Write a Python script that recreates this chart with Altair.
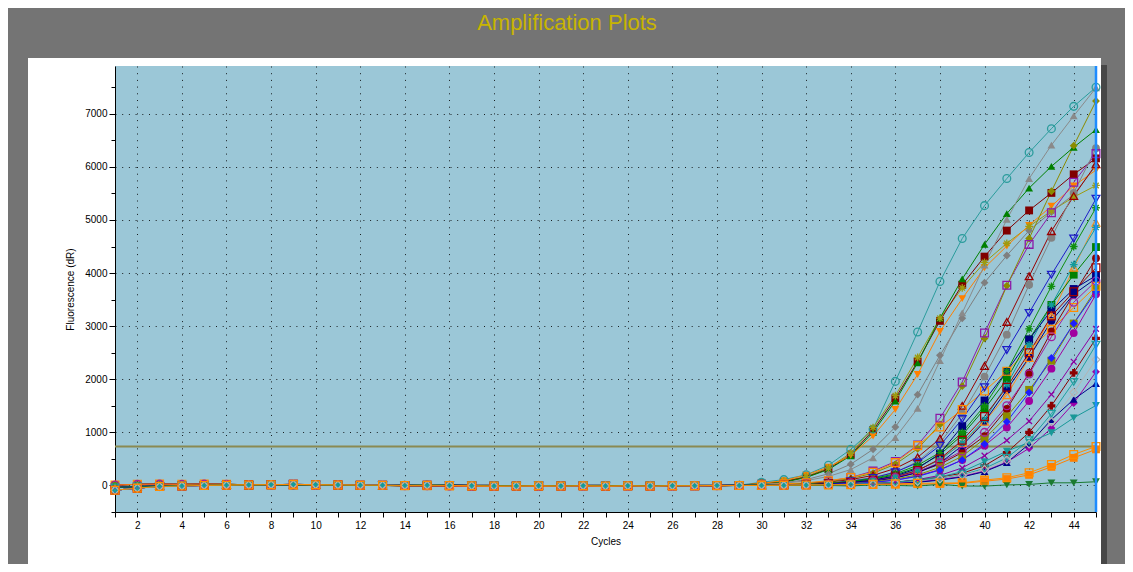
import altair as alt
import pandas as pd

# ---------------- data ----------------
cycles = list(range(1, 46))
chart_title = ["Amplification Plots"]

base_a = [-40, -20, -10, 0, 5, 10, 5, 10, 5, 10, 5, 0, 0, 5, 10, 5, 0, 0, -5, 0, -5, 0, 0, -5, 0, -5, 0, 0, 5]
base_b = [-90, -50, -20, -10, 0, 5, 10, 15, 20, 15, 10, 5, 5, 0, 5, 0, -5, -10, -10, -5, -10, -5, -10, -5, -10, -5, -5, 0, 0]
base_c = [10, 20, 25, 20, 25, 20, 15, 10, 10, 5, 10, 5, 0, -5, -5, -10, -15, -15, -10, -15, -10, -10, -15, -10, -10, -10, -5, -5, 0]

# cycles 30-45 for each well
s01 = [60, 110, 200, 380, 680, 1060, 1960, 2890, 3840, 4650, 5270, 5780, 6270, 6720, 7140, 7500]
s02 = [40, 80, 170, 330, 610, 1090, 1690, 2410, 3150, 3720, 4200, 4560, 4880, 5170, 5430, 5650]
s03 = [40, 70, 160, 310, 580, 1040, 1640, 2330, 3100, 3780, 4310, 4800, 5180, 5510, 5860, 6160]
s04 = [30, 60, 150, 300, 560, 1000, 1590, 2310, 3150, 3890, 4540, 5120, 5600, 6010, 6370, 6700]
s05 = [40, 90, 200, 345, 565, 930, 1430, 2090, 2900, 3520, 4100, 4510, 4900, 5260, 5640, 5940]
s06 = [20, 50, 110, 220, 400, 680, 1100, 1710, 2450, 3150, 3820, 4330, 4800, 5150, 5480, 6020]
s07 = [20, 40, 90, 170, 300, 520, 900, 1450, 2350, 3250, 4150, 5010, 5780, 6410, 6960, 7490]
s08 = [10, 20, 40, 80, 150, 270, 450, 760, 1265, 1950, 2870, 3770, 4540, 5135, 5710, 6250]
s09 = [10, 20, 40, 70, 130, 230, 400, 690, 1150, 1870, 2770, 3760, 4650, 5540, 6400, 7240]
s10 = [5, 15, 30, 60, 110, 190, 320, 530, 880, 1500, 2250, 3080, 3940, 4790, 5450, 6050]
s11 = [5, 10, 25, 50, 90, 150, 250, 450, 800, 1350, 2050, 2840, 3780, 4665, 5510, 6350]
s12 = [10, 30, 50, 90, 150, 250, 430, 750, 1100, 1430, 1780, 2150, 2560, 2940, 3350, 3750]
s13 = [0, 0, 5, 10, 20, 35, 60, 110, 190, 330, 560, 850, 1211, 1714, 2330, 2950]
s14 = [5, 10, 20, 40, 80, 140, 250, 430, 750, 1250, 1850, 2550, 3250, 3970, 4650, 5400]
s15 = [10, 15, 25, 45, 75, 130, 220, 380, 620, 1000, 1500, 2150, 2950, 3750, 4500, 5230]
s16 = [5, 10, 20, 35, 60, 100, 170, 290, 480, 800, 1200, 1700, 2400, 3200, 4100, 4950]
s17 = [5, 10, 20, 35, 60, 100, 170, 290, 480, 800, 1240, 1900, 2650, 3400, 4160, 4860]
s18 = [5, 10, 20, 40, 70, 120, 200, 340, 580, 950, 1440, 2000, 2750, 3400, 3970, 4490]
s19 = [0, 5, 15, 30, 50, 90, 150, 250, 400, 620, 930, 1440, 2120, 2900, 3600, 4280]
s20 = [0, 5, 15, 30, 55, 95, 160, 280, 500, 850, 1300, 1850, 2500, 3190, 3650, 4100]
s21 = [0, 5, 10, 25, 50, 90, 150, 260, 430, 650, 1000, 1500, 2100, 2800, 3450, 3850]
s22 = [0, 5, 10, 25, 45, 80, 140, 240, 420, 750, 1200, 1800, 2410, 3100, 3600, 3900]
s23 = [0, 0, 5, 15, 30, 60, 100, 180, 300, 480, 750, 1090, 1590, 2200, 2870, 3600]
s24 = [0, 5, 10, 20, 40, 70, 120, 200, 340, 550, 880, 1300, 1800, 2350, 3050, 3700]
s25 = [0, 5, 15, 30, 55, 100, 180, 320, 600, 1117, 1600, 2150, 2750, 3300, 3700, 3950]
s26 = [0, 5, 10, 20, 35, 60, 100, 170, 290, 480, 780, 1200, 1750, 2400, 3050, 3650]
s27 = [0, 0, 5, 10, 20, 35, 60, 100, 160, 230, 370, 620, 1000, 1500, 2120, 2770]
s28 = [0, 0, 5, 10, 20, 30, 50, 80, 130, 200, 320, 520, 850, 1350, 1950, 2650]
s29 = [0, 0, 5, 10, 15, 25, 45, 75, 120, 190, 300, 480, 780, 1200, 1750, 2370]
s30 = [0, 0, 0, 5, 15, 25, 40, 65, 110, 170, 270, 440, 700, 1080, 1550, 2140]
s31 = [0, 0, 0, 5, 10, 20, 35, 60, 100, 160, 260, 430, 780, 1240, 1620, 1920]
s32 = [0, 0, 5, 10, 20, 35, 60, 100, 160, 260, 450, 646, 810, 992, 1274, 1506]
s33 = [0, 5, 0, 5, 10, 15, 20, 25, 30, 40, 80, 120, 200, 350, 520, 680]
s34 = [10, 0, 5, 0, -10, 10, 0, -10, 20, -10, -12, 10, 19, 50, 50, 70]
s35 = [0, 5, 10, 10, 15, 20, 30, 40, 45, 50, 100, 145, 239, 395, 584, 734]

rises = [s01, s02, s03, s04, s05, s06, s07, s08, s09, s10, s11, s12, s13, s14, s15, s16, s17, s18,
         s19, s20, s21, s22, s23, s24, s25, s26, s27, s28, s29, s30, s31, s32, s33, s34, s35]
bases = [base_a, base_b, base_c]

series_names = ["W%02d" % (i + 1) for i in range(len(rises))]

ASTER = "M-1,0L1,0M0,-1L0,1M-0.7,-0.7L0.7,0.7M-0.7,0.7L0.7,-0.7"
XMARK = "M-0.75,-0.75L0.75,0.75M-0.75,0.75L0.75,-0.75"

series_colors = ["#2b9c9c", "#9c9c10", "#800000", "#008000", "#ff8000", "#7f7f7f", "#8a8a8a",
                 "#8c1aa8", "#8b8b00", "#990000", "#838383", "#ff8c00", "#8c00a0", "#1c1cc8",
                 "#0f8f0f", "#ff8c1a", "#129a9a", "#008000", "#8b0000", "#a00000", "#a01ea0",
                 "#000080", "#a000a0", "#8b8b00", "#000080", "#1e1eff", "#8b0000", "#1fa0a0",
                 "#b4b4b4", "#9a00a8", "#00008c", "#189898", "#ff8000", "#1a7a30", "#ff8c00"]
series_shapes = ["circle", ASTER, "square", "triangle-up", "triangle-down", "diamond", "triangle-up",
                 "square", "diamond", "triangle-up", "circle", "square", XMARK, "triangle-down",
                 ASTER, "triangle-up", ASTER, "square", "circle", "square", "circle",
                 "circle", "circle", "square", "square", "diamond", "cross", "triangle-down",
                 "diamond", "diamond", "triangle-up", "triangle-down", "square", "triangle-down", "square"]
series_filled = [False, False, True, True, True, True, True,
                 False, True, False, True, False, False, False,
                 False, False, False, True, True, False, False,
                 True, True, True, True, True, True, False,
                 False, True, True, True, True, True, False]

threshold = [734]
marker_cycle = [45]

rows = []
for i, name in enumerate(series_names):
    vals = bases[i % 3] + rises[i]
    for c, v in zip(cycles, vals):
        rows.append({"series": name, "cycle": c, "value": v, "filled": series_filled[i]})
df = pd.DataFrame(rows)

# ---------------- encodings ----------------
FONT = "Liberation Sans"
y_ticks = list(range(-500, 8000, 500))

X_ENC = alt.X(
    "cycle:Q",
    scale=alt.Scale(domain=[1, 45], nice=False, zero=False),
    axis=alt.Axis(
        values=cycles,
        labelExpr="datum.value % 2 == 0 && datum.value < 45 ? datum.label : ''",
        gridOpacity={"condition": {"test": "datum.value % 2 == 0 && datum.value < 45", "value": 0.85}, "value": 0},
        tickSize=5,
        labelPadding=3,
        title="Cycles",
        titlePadding=6,
    ),
)
Y_ENC = alt.Y(
    "value:Q",
    scale=alt.Scale(domain=[-500, 7900], nice=False, zero=False),
    axis=alt.Axis(
        values=y_ticks,
        format="d",
        labelExpr="datum.value % 1000 == 0 && datum.value >= 0 ? datum.label : ''",
        gridOpacity={"condition": {"test": "datum.value % 1000 == 0 && datum.value >= 0", "value": 0.85}, "value": 0},
        tickSize={"condition": {"test": "datum.value % 1000 == 0", "value": 6}, "value": 4},
        labelPadding=2,
        title="Fluorescence (dR)",
        titlePadding=9,
    ),
)
COLOR = alt.Color("series:N", scale=alt.Scale(domain=series_names, range=series_colors), legend=None)
SHAPE = alt.Shape("series:N", scale=alt.Scale(domain=series_names, range=series_shapes), legend=None)

one = pd.DataFrame({"k": [0]})
GRAY = "#747474"

frame_top = alt.Chart(one).mark_rect(color=GRAY).encode(
    x=alt.value(-107), x2=alt.value(1010), y=alt.value(-58), y2=alt.value(-8))
frame_left = alt.Chart(one).mark_rect(color=GRAY).encode(
    x=alt.value(-107), x2=alt.value(-87), y=alt.value(-8), y2=alt.value(498))
frame_right = alt.Chart(one).mark_rect(color=GRAY).encode(
    x=alt.value(986), x2=alt.value(1010), y=alt.value(-8), y2=alt.value(498))
frame_shadow = alt.Chart(one).mark_rect(color="#474747").encode(
    x=alt.value(986), x2=alt.value(992), y=alt.value(-1), y2=alt.value(498))

title_text = alt.Chart(pd.DataFrame({"t": chart_title})).mark_text(
    font=FONT, fontSize=22, color="#c8b400", align="center", baseline="alphabetic"
).encode(text="t:N", x=alt.value(452), y=alt.value(-36))

thr = alt.Chart(pd.DataFrame({"value": threshold})).mark_rule(
    color="#8a8a52", strokeWidth=2).encode(y=Y_ENC)

base = alt.Chart(df)
lines = base.mark_line(strokeWidth=1, opacity=1).encode(
    x=X_ENC, y=Y_ENC, color=COLOR, order=alt.Order("cycle:Q"))
pts_filled = base.transform_filter("datum.filled").mark_point(
    filled=True, size=62, opacity=1).encode(x=X_ENC, y=Y_ENC, color=COLOR, shape=SHAPE)
pts_open = base.transform_filter("!datum.filled").mark_point(
    filled=False, size=60, opacity=1, strokeWidth=1.3).encode(x=X_ENC, y=Y_ENC, color=COLOR, shape=SHAPE)

blue = alt.Chart(pd.DataFrame({"cycle": marker_cycle})).mark_rule(
    color="#1e8cff", strokeWidth=2.5).encode(x=X_ENC)

chart = alt.layer(
    frame_top, frame_left, frame_right, frame_shadow, title_text, thr, lines, pts_filled, pts_open, blue
).properties(
    width=981,
    height=446,
    autosize=alt.AutoSizeParams(type="none"),
    padding={"left": 107, "top": 58, "right": 29, "bottom": 52},
    background="white",
).configure_view(
    fill="#9bc7d7", strokeWidth=0
).configure_axis(
    labelFont=FONT, labelFontSize=10, labelColor="black",
    titleFont=FONT, titleFontSize=10, titleFontWeight="normal", titleColor="black",
    domainColor="black", domainWidth=1, tickColor="black",
    gridColor="black", gridDash=[1, 5.7], gridWidth=1,
)

chart.save("out.html", embed_options={"renderer": "svg", "actions": False})
